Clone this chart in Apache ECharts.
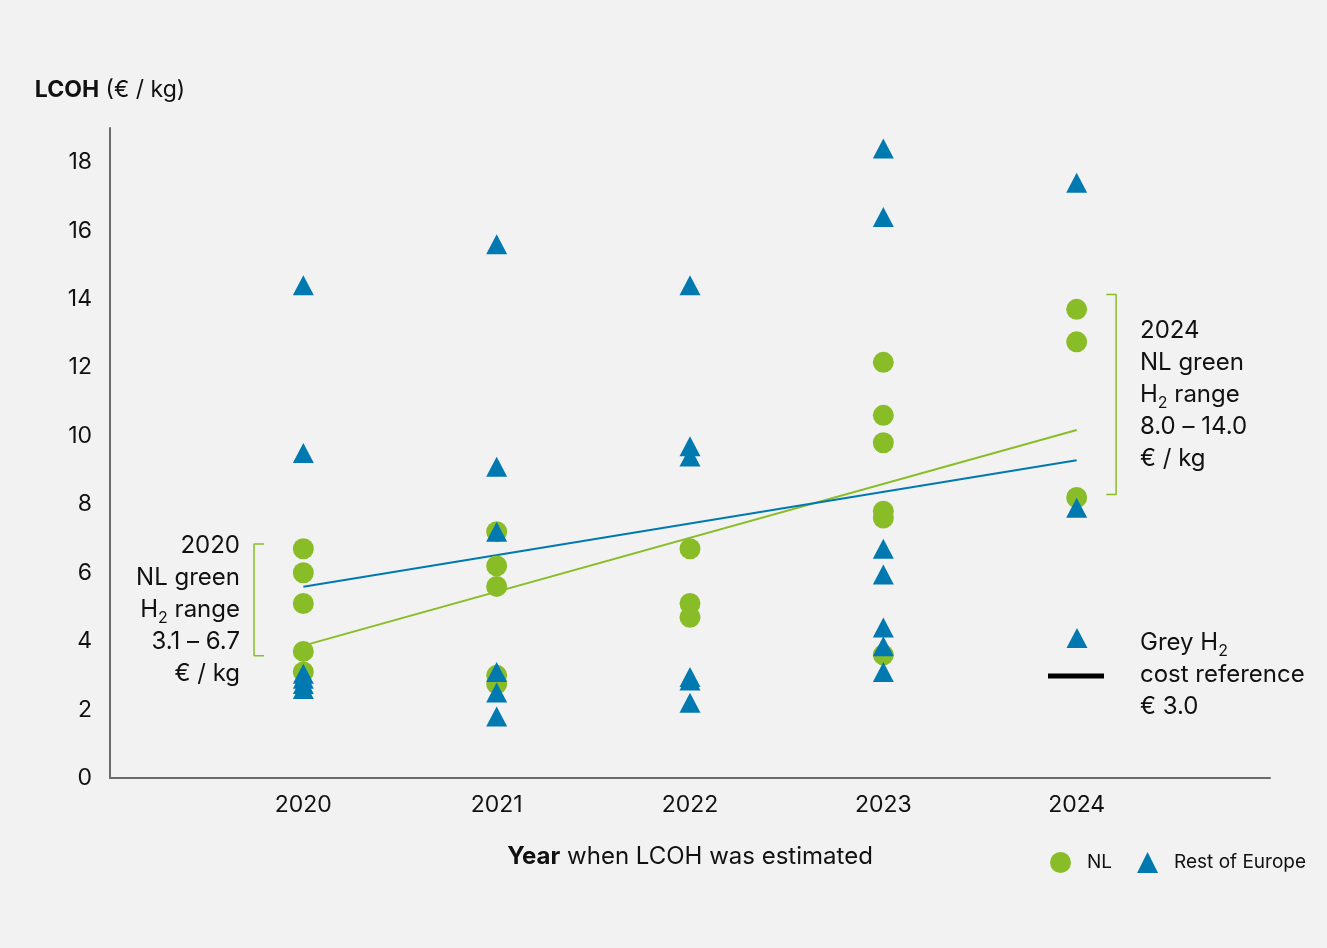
<!DOCTYPE html>
<html>
<head>
<meta charset="utf-8">
<script src="https://cdn.jsdelivr.net/npm/echarts@6/dist/echarts.min.js"></script>
<style>
html,body{margin:0;padding:0;background:#F2F2F2;}
#c{width:1327px;height:948px;}
</style>
</head>
<body>
<div id="c"></div>
<script>
// ---- data ----
const years = [2020, 2021, 2022, 2023, 2024];
const nl2020 = [6.7, 6.0, 5.1, 3.7, 3.1];
const nl2021 = [7.2, 6.2, 5.6, 3.0, 2.75];
const nl2022 = [6.7, 5.1, 4.7];
const nl2023 = [12.15, 10.6, 9.8, 7.8, 7.6, 3.6];
const nl2024 = [13.7, 12.75, 8.2];
const eu2020 = [14.4, 9.5, 3.05, 2.9, 2.75, 2.6];
const eu2021 = [15.6, 9.1, 7.2, 3.1, 2.5, 1.8];
const eu2022 = [14.4, 9.7, 9.4, 2.95, 2.85, 2.2];
const eu2023 = [18.4, 16.4, 6.7, 5.95, 4.4, 3.85, 3.1];
const eu2024 = [17.4, 7.9];
const trendNL = [3.87, 10.17];   // values at 2020 and 2024
const trendEU = [5.59, 9.29];
const bracket2020 = [3.57, 6.84];
const bracket2024 = [8.29, 14.13];
const yTicks = [0, 2, 4, 6, 8, 10, 12, 14, 16, 18];

// ---- build ----
const GREEN = '#89BD28', BLUE = '#0079B1', FONT = 'Inter';
function pairs(year, arr) { return arr.map(v => [year, v]); }
const nlData = [].concat(pairs(2020, nl2020), pairs(2021, nl2021), pairs(2022, nl2022), pairs(2023, nl2023), pairs(2024, nl2024));
const euData = [].concat(pairs(2020, eu2020), pairs(2021, eu2021), pairs(2022, eu2022), pairs(2023, eu2023), pairs(2024, eu2024));
const first = years[0], last = years[years.length - 1];

function bracketLeft(year, r) {
  const xo = year - 0.255, xi = year - 0.203;
  return [[xi, r[1]], [xo, r[1]], [xo, r[0]], [xi, r[0]]];
}
function bracketRight(year, r) {
  const xi = year + 0.153, xo = year + 0.204;
  return [[xi, r[1]], [xo, r[1]], [xo, r[0]], [xi, r[0]]];
}

const chart = echarts.init(document.getElementById('c'), null, {renderer: 'canvas'});
const subRich = {s: {fontFamily: 'Inter', fontSize: 16, lineHeight: 16, verticalAlign: 'bottom', fill: '#111', color: '#111'}};
const txt = {fontFamily: FONT, fontSize: 24, fill: '#111', rich: subRich};
chart.setOption({
  backgroundColor: '#F2F2F2',
  textStyle: {fontFamily: FONT, color: '#111'},
  animation: false,
  grid: {left: 110, right: 57, top: 128, bottom: 170, outerBoundsMode: 'none'},
  xAxis: {
    type: 'value', min: first - 1, max: last + 1, interval: 1,
    splitLine: {show: false},
    axisTick: {show: false},
    axisLine: {show: true, lineStyle: {color: '#6B6B6B', width: 2}},
    axisLabel: {
      fontSize: 23, color: '#111', fontFamily: FONT, margin: 16,
      formatter: v => (years.indexOf(v) >= 0 ? String(v) : '')
    },
    name: '{b|Year} when LCOH was estimated',
    nameLocation: 'middle', nameGap: 79,
    nameTextStyle: {
      fontSize: 24, color: '#111', fontFamily: FONT, verticalAlign: 'middle',
      rich: {b: {fontWeight: 'bold', fontSize: 24, fontFamily: FONT, color: '#111'}}
    }
  },
  yAxis: {
    type: 'value', min: 0, max: 19, interval: 2,
    splitLine: {show: false},
    axisTick: {show: false},
    axisLine: {show: true, lineStyle: {color: '#6B6B6B', width: 2}},
    axisLabel: {
      fontSize: 23, color: '#111', fontFamily: FONT, margin: 18, padding: [4, 0, 0, 0],
      formatter: v => (yTicks.indexOf(v) >= 0 ? String(v) : '')
    },
    name: '{b|LCOH} (€ / kg)',
    nameLocation: 'end', nameGap: 38,
    nameTextStyle: {
      fontSize: 23, color: '#111', fontFamily: FONT, verticalAlign: 'middle', align: 'center',
      rich: {b: {fontWeight: 'bold', fontSize: 23, fontFamily: FONT, color: '#111'}}
    }
  },
  legend: {
    left: 1045, top: 847, itemWidth: 21, itemHeight: 21, itemGap: 25,
    textStyle: {fontSize: 19, fontFamily: FONT, color: '#111', padding: [0, 0, 0, 11]},
    data: [{name: 'NL', icon: 'circle'}, {name: 'Rest of Europe', icon: 'triangle'}]
  },
  series: [
    {name: 'NL trend', type: 'line', data: [[first, trendNL[0]], [last, trendNL[1]]],
     showSymbol: false, lineStyle: {color: GREEN, width: 2}, z: 2, silent: true},
    {name: 'Rest of Europe trend', type: 'line', data: [[first, trendEU[0]], [last, trendEU[1]]],
     showSymbol: false, lineStyle: {color: BLUE, width: 2}, z: 2, silent: true},
    {name: 'bracket2020', type: 'line', data: bracketLeft(first, bracket2020),
     showSymbol: false, lineStyle: {color: GREEN, width: 1.5}, z: 2, silent: true},
    {name: 'bracket2024', type: 'line', data: bracketRight(last, bracket2024),
     showSymbol: false, lineStyle: {color: GREEN, width: 1.5}, z: 2, silent: true},
    {name: 'NL', type: 'scatter', data: nlData, symbol: 'circle', symbolSize: 21,
     itemStyle: {color: GREEN, opacity: 1}, z: 3},
    {name: 'Rest of Europe', type: 'scatter', data: euData, symbol: 'triangle', symbolSize: [21, 20],
     itemStyle: {color: BLUE, opacity: 1}, z: 4}
  ],
  graphic: [
    {type: 'text', x: 240, y: 530, style: Object.assign({}, txt, {
      text: '2020\nNL green\nH{s|2} range\n3.1 – 6.7\n€ / kg', align: 'right', verticalAlign: 'top', lineHeight: 32})},
    {type: 'text', x: 1140, y: 315, style: Object.assign({}, txt, {
      text: '2024\nNL green\nH{s|2} range\n8.0 – 14.0\n€ / kg', align: 'left', verticalAlign: 'top', lineHeight: 32})},
    {type: 'text', x: 1140, y: 627, style: Object.assign({}, txt, {
      text: 'Grey H{s|2}\ncost reference\n€ 3.0', align: 'left', verticalAlign: 'top', lineHeight: 32})},
    {type: 'polygon', shape: {points: [[1066.5, 648], [1087.5, 648], [1077, 628]]}, style: {fill: BLUE}},
    {type: 'rect', shape: {x: 1048, y: 673.5, width: 56, height: 5}, style: {fill: '#000'}}
  ]
});
</script>
</body>
</html>
